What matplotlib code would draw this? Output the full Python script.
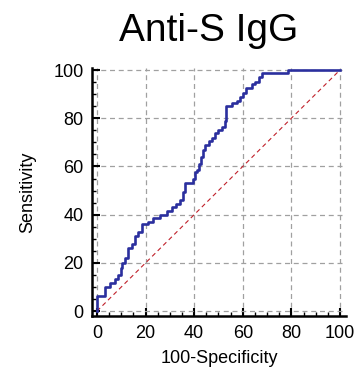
import matplotlib
matplotlib.use("Agg")
import matplotlib.pyplot as plt
from matplotlib.ticker import MultipleLocator

plt.rcParams['font.family'] = ['Liberation Sans', 'DejaVu Sans']

title = "Anti-S IgG"
xlabel = "100-Specificity"
ylabel = "Sensitivity"

# ROC corner points (100-Specificity, Sensitivity): at each x the curve rises to y
fpr = [0, 0, 3.5, 5.5, 7.3, 8.6, 9.9, 10.5, 11.4, 12.8, 14.4, 15.8, 17.0, 18.5,
       21.0, 23.0, 26.0, 28.8, 31.0, 32.5, 34.0, 35.5, 36.2, 39.6, 40.3, 41.0,
       42.0, 43.0, 43.7, 44.4, 46.0, 47.2, 48.6, 50.0, 51.3, 52.7, 53.1, 55.4,
       57.5, 58.8, 60.2, 61.3, 63.7, 65.0, 66.5, 67.8, 78.7, 100]
tpr = [0, 6.3, 10.0, 11.7, 13.3, 15.0, 18.0, 20.0, 22.0, 26.0, 28.0, 31.0, 33.0, 36.0,
       37.0, 38.5, 40.0, 41.5, 43.0, 44.5, 46.0, 49.5, 53.0, 55.0, 57.8, 58.5,
       61.0, 64.0, 67.0, 69.0, 70.5, 72.0, 74.0, 75.0, 76.5, 79.0, 85.0, 86.2,
       87.0, 89.0, 90.3, 92.4, 94.0, 95.0, 97.0, 98.6, 100.0, 100.0]
diag = [0, 100]
ticks = [0, 20, 40, 60, 80, 100]

fig = plt.figure(figsize=(3.56, 3.72), dpi=100)
ax = fig.add_axes([0.258, 0.150, 0.714, 0.667])

ax.plot(diag, diag, color="#c0202a", lw=0.8, ls=(0, (4, 3)), zorder=2)
ax.plot(fpr, tpr, color="#2b2f9e", lw=1.9, drawstyle="steps-post", zorder=3)

ax.set_xlim(-2.1, 102.5)
ax.set_ylim(-2.1, 100.8)
ax.set_xticks(ticks)
ax.set_yticks(ticks)
ax.xaxis.set_minor_locator(MultipleLocator(5))
ax.yaxis.set_minor_locator(MultipleLocator(5))
ax.grid(True, which="major", color="#a0a0a0", ls=(0, (4, 3)), lw=0.9, zorder=1)

for s in ["top", "right"]:
    ax.spines[s].set_visible(False)
for s in ["left", "bottom"]:
    ax.spines[s].set_linewidth(1.8)
    ax.spines[s].set_color("black")

ax.tick_params(which="major", direction="in", length=6, width=1.5, labelsize=13, pad=6)
ax.tick_params(which="minor", direction="in", length=3, width=1.0)

ax.set_xlabel(xlabel, fontsize=13, labelpad=6)
ax.set_ylabel(ylabel, fontsize=13, labelpad=12)
fig.text(0.587, 0.918, title, fontsize=28, ha="center", va="center")

fig.savefig("out.png", dpi=100)
